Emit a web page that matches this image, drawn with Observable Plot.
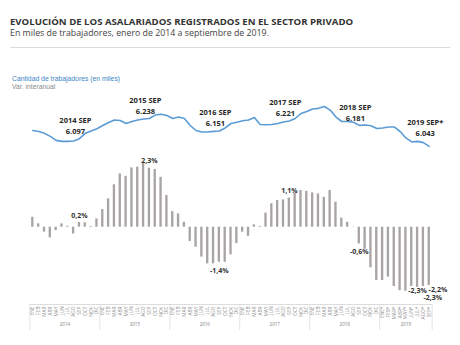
<!DOCTYPE html>
<html>
<head>
<meta charset="utf-8">
<script src="https://cdn.jsdelivr.net/npm/d3@7"></script>
<script src="https://cdn.jsdelivr.net/npm/@observablehq/plot@0.6"></script>
<style>
  html, body { margin: 0; padding: 0; background: #fff; }
  body { width: 460px; height: 345px; position: relative; overflow: hidden; font-family: "Open Sans", sans-serif; }
  .t { position: absolute; white-space: nowrap; line-height: 1; }
  #title { left: 10px; top: 16.5px; font-size: 9.6px; font-weight: 700; color: #333; }
  #sub { left: 10px; top: 28.6px; font-size: 8.8px; color: #444; }
  #hr { position: absolute; left: 10px; top: 47px; width: 440px; border-top: 1px solid #dcdcdc; }
  #leg1 { left: 12px; top: 76.2px; font-family: "Liberation Sans", Arial, sans-serif; font-size: 6.8px; color: #3d85c6; }
  #leg2 { left: 12px; top: 84.4px; font-family: "Liberation Sans", Arial, sans-serif; font-size: 6.8px; color: #8c8c8c; }
  #line { position: absolute; left: 0; top: 85px; }
  #bars { position: absolute; left: 0; top: 150px; }
</style>
</head>
<body>
<div class="t" id="title">EVOLUCIÓN DE LOS ASALARIADOS REGISTRADOS EN EL SECTOR PRIVADO</div>
<div class="t" id="sub">En miles de trabajadores, enero de 2014 a septiembre de 2019.</div>
<div id="hr"></div>
<div class="t" id="leg1">Cantidad de trabajadores (en miles)</div>
<div class="t" id="leg2">Var. interanual</div>
<div id="line"></div>
<div id="bars"></div>
<script>
// ---- data ----
const monthNames = ["ENE","FEB","MAR","ABR","MAY","JUN","JUL","AGO","SEP","OCT","NOV","DIC"];
const years = [2014, 2015, 2016, 2017, 2018, 2019];
const monthsInYear = [12, 12, 12, 12, 12, 9];

// Cantidad de trabajadores (miles), ene-2014 .. sep-2019
const workers = [
  6154, 6147, 6134, 6113, 6085, 6078, 6078, 6081, 6097, 6134, 6151, 6166,
  6189, 6210, 6228, 6224, 6203, 6217, 6228, 6235, 6238, 6262, 6268, 6259,
  6238, 6248, 6238, 6189, 6154, 6144, 6144, 6148, 6151, 6172, 6203, 6212,
  6222, 6228, 6245, 6196, 6194, 6196, 6203, 6214, 6221, 6238, 6273, 6287,
  6304, 6309, 6322, 6297, 6248, 6217, 6217, 6212, 6190, 6192, 6187, 6168,
  6172, 6179, 6179, 6147, 6102, 6074, 6078, 6069, 6043
];

// Variación interanual (%)
const variation = [
  0.38, 0.13, -0.19, -0.41, -0.13, 0.13, 0.04, -0.26, 0.18, 0.17, 0.03, 0.32,
  0.68, 1.09, 1.63, 2.05, 1.96, 2.28, 2.31, 2.50, 2.27, 2.22, 1.92, 1.22,
  0.60, 0.51, 0.19, -0.55, -0.77, -1.15, -1.41, -1.41, -1.35, -1.35, -1.06, -0.63,
  -0.19, -0.35, 0.09, 0.03, 0.54, 0.90, 1.03, 1.05, 1.12, 1.31, 1.41, 1.38,
  1.32, 1.28, 1.15, 1.41, 0.96, 0.35, 0.19, 0.01, -0.64, -0.85, -1.56, -2.05,
  -2.05, -1.92, -2.28, -2.44, -2.46, -2.28, -2.31, -2.28, -2.24
];

const levelLabelYears = [2014, 2015, 2016, 2017, 2018, 2019];
const levelLabelTitles = ["2014 SEP", "2015 SEP", "2016 SEP", "2017 SEP", "2018 SEP", "2019 SEP*"];
const levelLabelValues = ["6.097", "6.238", "6.151", "6.221", "6.181", "6.043"];

const varLabelKeys = ["2014-09", "2015-09", "2016-09", "2017-09", "2018-09", "2019-07", "2019-08", "2019-09"];
const varLabelTexts = ["0,2%", "2,3%", "-1,4%", "1,1%", "-0,6%", "-2,3%", "-2,2%", "-2,3%"];

// ---- tables ----
const rows = [];
years.forEach((y, yi) => {
  for (let m = 0; m < monthsInYear[yi]; m++) {
    const i = rows.length;
    rows.push({
      key: `${y}-${String(m + 1).padStart(2, "0")}`,
      year: y, month: m,
      tick: monthNames[m] + (y === 2019 ? "*" : ""),
      workers: workers[i], variation: variation[i]
    });
  }
});
const byKey = new Map(rows.map(d => [d.key, d]));
const keys = rows.map(d => d.key);

const levelLabels = levelLabelYears.map((y, i) => ({
  ...byKey.get(`${y}-09`), title: levelLabelTitles[i], value: levelLabelValues[i]
}));
const varLabels = varLabelKeys.map((k, i) => ({ ...byKey.get(k), text: varLabelTexts[i] }));

const yearGroups = years.map((y, i) => {
  const n = monthsInYear[i];
  return { year: String(y), n, key: `${y}-${String(Math.floor(n / 2) + 1).padStart(2, "0")}` };
});

// ---- layout ----
const W = 460, ML = 29.4, MR = 28.35;
const half = (W - ML - MR) / keys.length / 2;
const font = "'Open Sans', sans-serif";
const xOpt = { type: "band", domain: keys, padding: 0, axis: null };

const lineChart = Plot.plot({
  width: W, height: 68, marginLeft: ML, marginRight: MR, marginTop: 17, marginBottom: 1,
  style: { background: "transparent", overflow: "visible", fontFamily: font },
  x: xOpt,
  y: { domain: [6000, 6350], axis: null },
  marks: [
    Plot.lineY(rows, { x: "key", y: "workers", stroke: "#5b9bd5", strokeWidth: 1.6 }),
    Plot.text(levelLabels.slice(0, 5), { x: "key", y: "workers", text: "title", dx: -4, dy: -18, fontSize: 7.5, fontWeight: 700, fill: "#262626" }),
    Plot.text(levelLabels.slice(0, 5), { x: "key", y: "workers", text: "value", dx: -4, dy: -7, fontSize: 7.5, fontWeight: 700, fill: "#262626" }),
    Plot.text(levelLabels.slice(5), { x: "key", y: "workers", text: "title", dx: -4, dy: -23.5, fontSize: 7.5, fontWeight: 700, fill: "#262626" }),
    Plot.text(levelLabels.slice(5), { x: "key", y: "workers", text: "value", dx: -4, dy: -12.5, fontSize: 7.5, fontWeight: 700, fill: "#262626" })
  ]
});
document.getElementById("line").append(lineChart);

const lblStyle = { fontSize: 7, fontWeight: 700, fill: "#333" };
const barChart = Plot.plot({
  width: W, height: 195, marginLeft: ML, marginRight: MR, marginTop: 5, marginBottom: 41,
  style: { background: "transparent", overflow: "visible", fontFamily: font },
  x: xOpt,
  y: { domain: [-2.973, 2.758], axis: null },
  marks: [
    Plot.barY(rows, { x: "key", y: "variation", fill: "#a9a4a4", insetLeft: 1.75, insetRight: 1.75 }),
    Plot.text(varLabels.slice(0, 5).filter(d => d.variation > 0), { x: "key", y: "variation", text: "text", dy: -7, ...lblStyle }),
    Plot.text(varLabels.slice(0, 5).filter(d => d.variation < 0), { x: "key", y: "variation", text: "text", dy: 8, ...lblStyle }),
    Plot.text(varLabels.slice(5, 6), { x: "key", y: "variation", text: "text", dy: 3, ...lblStyle }),
    Plot.text(varLabels.slice(6, 7), { x: "key", y: "variation", text: "text", dx: 14.5, dy: 3, ...lblStyle }),
    Plot.text(varLabels.slice(7, 8), { x: "key", y: "variation", text: "text", dx: 3.5, dy: 12.5, ...lblStyle }),
    Plot.axisX({ anchor: "bottom", tickSize: 0, tickPadding: 2, tickRotate: -90, fontSize: 4.8, label: null,
      tickFormat: k => byKey.get(k).tick, fill: "#8a8a8a" }),
    Plot.frame({ anchor: "bottom", stroke: "#dcdcdc" }),
    Plot.ruleX(rows.filter(d => d.month === 0), { x: "key", dx: -half, insetTop: 149, insetBottom: -26, stroke: "#dcdcdc", strokeWidth: 0.8 }),
    Plot.ruleX(rows.slice(-1), { x: "key", dx: half, insetTop: 149, insetBottom: -26, stroke: "#dcdcdc", strokeWidth: 0.8 }),
    Plot.text(yearGroups.filter(d => d.n % 2 === 0), { x: "key", text: "year", frameAnchor: "bottom", dx: -half, dy: 21, fontSize: 4.5, fill: "#808080" }),
    Plot.text(yearGroups.filter(d => d.n % 2 === 1), { x: "key", text: "year", frameAnchor: "bottom", dy: 21, fontSize: 4.5, fill: "#808080" })
  ]
});
document.getElementById("bars").append(barChart);
</script>
</body>
</html>
